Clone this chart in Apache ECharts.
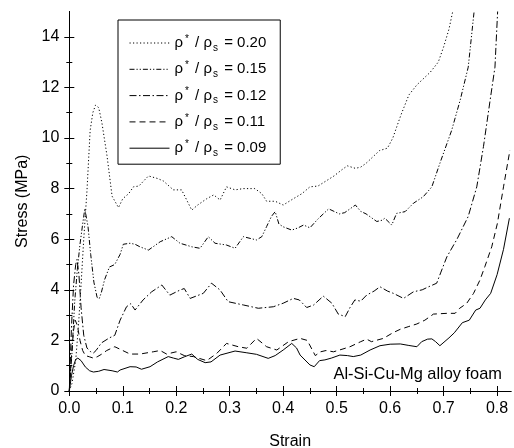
<!DOCTYPE html>
<html>
<head>
<meta charset="utf-8">
<script src="https://cdn.jsdelivr.net/npm/echarts@6/dist/echarts.min.js"></script>
<style>
html,body{margin:0;padding:0;background:#fff;}
#c{width:514px;height:448px;}
</style>
</head>
<body>
<div id="c"></div>
<script>
// ---- data (strain, stress in MPa) ----
const densities = ['0.20', '0.15', '0.12', '0.11', '0.09'];

const s20x = [0, 0.005, 0.012, 0.0175, 0.022, 0.027, 0.033, 0.039, 0.044, 0.049, 0.055, 0.061, 0.0705, 0.08, 0.092, 0.1, 0.111, 0.12, 0.13, 0.148, 0.165, 0.176, 0.1945, 0.21, 0.229, 0.24, 0.257, 0.27, 0.282, 0.294, 0.31, 0.3255, 0.347, 0.36, 0.369, 0.385, 0.40, 0.419, 0.435, 0.45, 0.465, 0.48, 0.495, 0.51, 0.52, 0.535, 0.545, 0.555, 0.57, 0.58, 0.595, 0.605, 0.62, 0.635, 0.65, 0.665, 0.675, 0.69, 0.70, 0.71, 0.717];
const s20y = [0, 0.3, 1.2, 2.7, 4.2, 6.0, 7.9, 10.3, 11.0, 11.3, 11.2, 10.6, 9.3, 7.7, 7.25, 7.6, 7.8, 8.07, 8.1, 8.5, 8.4, 8.3, 7.95, 7.95, 7.15, 7.35, 7.6, 7.75, 7.55, 8.07, 7.95, 8.0, 8.0, 7.8, 7.5, 7.5, 7.35, 7.6, 7.8, 8.07, 8.1, 8.3, 8.5, 8.75, 8.9, 8.8, 8.85, 9.0, 9.3, 9.5, 9.6, 10.0, 10.9, 11.7, 12.1, 12.4, 12.6, 13.0, 13.6, 14.3, 15.0];

const s15x = [0, 0.005, 0.01, 0.015, 0.02, 0.025, 0.029, 0.035, 0.04, 0.046, 0.052, 0.056, 0.06, 0.066, 0.075, 0.085, 0.095, 0.101, 0.1136, 0.123, 0.132, 0.148, 0.16, 0.17, 0.1915, 0.207, 0.229, 0.2445, 0.26, 0.2725, 0.294, 0.31, 0.3255, 0.35, 0.36, 0.369, 0.378, 0.385, 0.392, 0.40, 0.416, 0.428, 0.438, 0.45, 0.465, 0.475, 0.485, 0.495, 0.505, 0.515, 0.525, 0.535, 0.545, 0.555, 0.565, 0.575, 0.585, 0.59, 0.603, 0.612, 0.628, 0.6435, 0.662, 0.678, 0.693, 0.715, 0.731, 0.746, 0.757];
const s15y = [0, 1.5, 3.5, 4.8, 5.8, 6.6, 7.2, 6.5, 5.4, 4.3, 3.7, 3.65, 3.9, 4.4, 4.9, 5.0, 5.4, 5.8, 5.84, 5.8, 5.7, 5.57, 5.75, 5.9, 6.1, 5.84, 5.7, 5.64, 6.1, 5.84, 5.77, 5.64, 6.1, 5.97, 6.1, 6.5, 6.9, 7.09, 6.6, 6.49, 6.36, 6.45, 6.56, 6.45, 6.8, 7.0, 7.2, 7.1, 7.0, 7.05, 7.2, 7.35, 7.1, 7.0, 6.85, 6.7, 6.75, 6.83, 6.56, 7.02, 7.09, 7.42, 7.68, 8.07, 9.0, 10.3, 11.5, 12.8, 15.0];

const s12x = [0, 0.004, 0.008, 0.012, 0.0144, 0.018, 0.022, 0.027, 0.033, 0.04, 0.045, 0.05, 0.06, 0.075, 0.085, 0.095, 0.107, 0.115, 0.123, 0.138, 0.154, 0.173, 0.188, 0.207, 0.215, 0.226, 0.2506, 0.266, 0.282, 0.297, 0.3255, 0.3535, 0.3816, 0.40, 0.419, 0.43, 0.444, 0.457, 0.475, 0.491, 0.503, 0.516, 0.525, 0.534, 0.545, 0.556, 0.57, 0.581, 0.595, 0.606, 0.625, 0.6435, 0.66, 0.672, 0.687, 0.695, 0.706, 0.725, 0.746, 0.762, 0.7745, 0.787, 0.796, 0.801];
const s12y = [0, 2.5, 4.2, 5.0, 5.2, 4.6, 3.3, 2.2, 1.7, 1.55, 1.5, 1.6, 1.9, 2.1, 2.2, 2.8, 3.33, 3.45, 3.2, 3.6, 3.92, 4.19, 3.79, 3.99, 4.05, 3.66, 3.86, 4.26, 3.99, 3.53, 3.4, 3.27, 3.33, 3.47, 3.66, 3.6, 3.3, 3.4, 3.75, 3.47, 3.04, 2.94, 3.3, 3.6, 3.55, 3.79, 3.95, 4.12, 3.95, 3.86, 3.66, 3.92, 4.0, 4.12, 4.26, 4.7, 5.3, 6.0, 6.9, 8.07, 9.66, 11.5, 12.8, 15.0];

const s11x = [0, 0.004, 0.008, 0.011, 0.015, 0.02, 0.025, 0.03, 0.038, 0.045, 0.052, 0.06, 0.07, 0.085, 0.095, 0.1136, 0.132, 0.157, 0.17, 0.182, 0.2, 0.215, 0.232, 0.257, 0.276, 0.294, 0.316, 0.332, 0.35, 0.369, 0.388, 0.41, 0.4316, 0.445, 0.46, 0.47, 0.48, 0.494, 0.51, 0.525, 0.545, 0.556, 0.565, 0.5875, 0.605, 0.619, 0.635, 0.65, 0.665, 0.681, 0.706, 0.7215, 0.73, 0.743, 0.756, 0.768, 0.777, 0.79, 0.8005, 0.812, 0.824];
const s11y = [0, 1.4, 2.4, 2.8, 2.6, 2.0, 1.6, 1.4, 1.35, 1.3, 1.35, 1.45, 1.6, 1.75, 1.65, 1.46, 1.46, 1.55, 1.6, 1.46, 1.55, 1.4, 1.36, 1.2, 1.49, 1.88, 1.75, 1.69, 2.08, 1.75, 1.62, 1.95, 2.08, 2.0, 1.4, 1.55, 1.6, 1.55, 1.65, 1.75, 1.95, 2.05, 1.95, 2.08, 2.3, 2.44, 2.55, 2.65, 2.8, 3.04, 3.07, 3.07, 3.27, 3.46, 3.86, 4.39, 4.91, 5.7, 6.62, 8.07, 9.52];

const s09x = [0, 0.004, 0.008, 0.012, 0.016, 0.022, 0.03, 0.038, 0.045, 0.055, 0.065, 0.08, 0.09, 0.095, 0.1136, 0.125, 0.135, 0.151, 0.165, 0.185, 0.195, 0.204, 0.215, 0.229, 0.24, 0.254, 0.265, 0.282, 0.31, 0.332, 0.35, 0.372, 0.385, 0.40, 0.416, 0.425, 0.4316, 0.45, 0.458, 0.468, 0.478, 0.49, 0.506, 0.52, 0.531, 0.545, 0.5625, 0.581, 0.6, 0.619, 0.635, 0.65, 0.659, 0.67, 0.678, 0.685, 0.693, 0.71, 0.72, 0.735, 0.748, 0.76, 0.768, 0.778, 0.788, 0.8, 0.812, 0.823];
const s09y = [0, 0.6, 1.0, 1.25, 1.3, 1.2, 0.95, 0.8, 0.75, 0.78, 0.85, 0.8, 0.75, 0.83, 0.96, 0.95, 0.86, 0.96, 1.15, 1.36, 1.3, 1.25, 1.35, 1.46, 1.25, 1.12, 1.15, 1.42, 1.58, 1.51, 1.45, 1.29, 1.4, 1.62, 1.88, 1.7, 1.42, 1.03, 0.96, 1.2, 1.23, 1.3, 1.42, 1.4, 1.36, 1.42, 1.62, 1.79, 1.85, 1.86, 1.8, 1.75, 1.95, 2.05, 2.06, 1.95, 1.79, 2.1, 2.3, 2.7, 2.8, 3.2, 3.27, 3.6, 3.86, 4.6, 5.6, 6.83];

const xMajor = [0, 0.1, 0.2, 0.3, 0.4, 0.5, 0.6, 0.7, 0.8];
const xMinor = [0.05, 0.15, 0.25, 0.35, 0.45, 0.55, 0.65, 0.75];
const yMajor = [0, 2, 4, 6, 8, 10, 12, 14];
const yMinor = [1, 3, 5, 7, 9, 11, 13];

const xName = 'Strain';
const yName = 'Stress (MPa)';
const note = 'Al-Si-Cu-Mg alloy foam';

// ---- chart ----
const FONT = 'Liberation Sans, Arial, Helvetica, sans-serif';
const pairs = (xs, ys) => xs.map((x, i) => [x, ys[i]]);
const seriesData = [pairs(s20x, s20y), pairs(s15x, s15y), pairs(s12x, s12y), pairs(s11x, s11y), pairs(s09x, s09y)];
const dashes = [[1.2, 2.3], [5, 2, 1.2, 2, 1.2, 2], [7, 2.5, 1.5, 2.5], [6, 4], 'solid'];

const X_MIN = 0, X_MAX = 0.826, Y_MIN = 0, Y_MAX = 15;
const axisLineStyle = { show: true, lineStyle: { color: '#000', width: 1 } };

function xAx(pos, ticks, len, showLine, labels) {
  return {
    type: 'value', position: pos, min: X_MIN, max: X_MAX,
    axisLine: showLine ? axisLineStyle : { show: false },
    axisTick: { show: true, inside: false, length: len, customValues: ticks, lineStyle: { color: '#000', width: 1 } },
    axisLabel: labels ? { show: true, customValues: ticks, formatter: v => v.toFixed(1), fontFamily: FONT, fontSize: 16, color: '#000', margin: 10 } : { show: false },
    splitLine: { show: false }
  };
}
function yAx(pos, ticks, len, showLine, labels) {
  return {
    type: 'value', position: pos, min: Y_MIN, max: Y_MAX,
    axisLine: showLine ? axisLineStyle : { show: false },
    axisTick: { show: true, inside: false, length: len, customValues: ticks, lineStyle: { color: '#000', width: 1 } },
    axisLabel: labels ? { show: true, customValues: ticks, formatter: v => String(v), fontFamily: FONT, fontSize: 16, color: '#000', margin: 10 } : { show: false },
    splitLine: { show: false }
  };
}

const xAxes = [
  xAx('bottom', xMajor, 5, true, true),
  xAx('bottom', xMinor, 3, false, false),
  xAx('top', xMajor, 5, true, false),
  xAx('top', xMinor, 3, false, false)
];
Object.assign(xAxes[0], { name: xName, nameLocation: 'middle', nameGap: 43, nameTextStyle: { fontFamily: FONT, fontSize: 16, color: '#000' } });

const yAxes = [
  yAx('left', yMajor, 5, true, true),
  yAx('left', yMinor, 3, false, false),
  yAx('right', yMajor, 5, true, false),
  yAx('right', yMinor, 3, false, false)
];
Object.assign(yAxes[0], { name: yName, nameLocation: 'middle', nameGap: 39, nameRotate: 90, nameTextStyle: { fontFamily: FONT, fontSize: 16, color: '#000' } });

const names = densities.map(d => 'ρ*/ρs = ' + d);

const chart = echarts.init(document.getElementById('c'), null, { renderer: 'canvas' });
chart.setOption({
  animation: false,
  backgroundColor: '#fff',
  grid: { left: 69.3, right: 3, top: 11.5, bottom: 57, containLabel: false, outerBoundsMode: 'none' },
  xAxis: xAxes,
  yAxis: yAxes,
  legend: {
    data: names,
    orient: 'vertical',
    left: 118, top: 20,
    padding: [13, 14, 6, 11],
    itemGap: 6.3,
    itemWidth: 40, itemHeight: 20,
    borderColor: '#000', borderWidth: 1,
    backgroundColor: '#fff',
    selectedMode: false,
    lineStyle: { width: 1 },
    itemStyle: { opacity: 0, borderWidth: 0 },
    formatter: n => {
      const d = n.split('= ')[1];
      return '{r|ρ}{sup|*}{r| / ρ}{sub|s}{r| = ' + d + '}';
    },
    textStyle: {
      fontFamily: FONT, color: '#000',
      rich: {
        r: { fontFamily: FONT, fontSize: 15, color: '#000', lineHeight: 20, verticalAlign: 'middle' },
        sup: { fontFamily: FONT, fontSize: 10, color: '#000', lineHeight: 20, verticalAlign: 'top', padding: [1, 2, 0, 2] },
        sub: { fontFamily: FONT, fontSize: 10, color: '#000', lineHeight: 20, verticalAlign: 'bottom', padding: [0, 2, 0, 1] }
      }
    }
  },
  graphic: [{
    type: 'text', right: 12, top: 366, z: 100,
    style: { text: note, font: '16.4px ' + FONT, fill: '#000' }
  }],
  series: names.map((n, i) => ({
    name: n, type: 'line', xAxisIndex: 0, yAxisIndex: 0,
    data: seriesData[i], showSymbol: false, symbol: 'none', smooth: false,
    clip: true,
    lineStyle: { color: '#000', width: 1, type: dashes[i] },
    itemStyle: { color: '#000' }
  }))
});
</script>
</body>
</html>
